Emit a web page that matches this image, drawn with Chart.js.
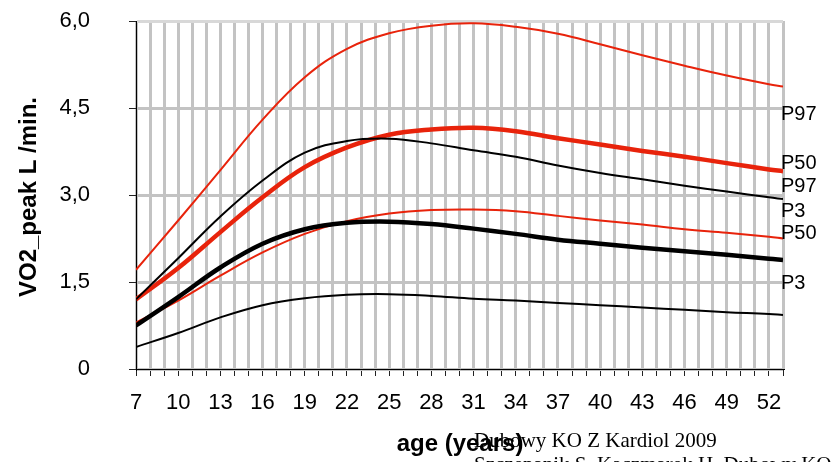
<!DOCTYPE html>
<html>
<head>
<meta charset="utf-8">
<script src="https://cdn.jsdelivr.net/npm/chart.js@4/dist/chart.umd.min.js"></script>
<style>
  html, body { margin: 0; padding: 0; background: #fff; }
  #wrap { width: 831px; height: 462px; position: relative; overflow: hidden; }
</style>
</head>
<body>
<div id="wrap"><canvas id="c" width="831" height="462"></canvas></div>
<script>
// ---- data ----
const ages = [7, 10, 13, 16, 19, 22, 25, 28, 31, 34, 37, 40, 43, 46, 49, 52, 53];
const redP97   = [1.71, 2.56, 3.43, 4.30, 5.03, 5.52, 5.79, 5.92, 5.96, 5.90, 5.78, 5.60, 5.41, 5.23, 5.06, 4.91, 4.87];
const redP50   = [1.20, 1.74, 2.36, 2.96, 3.48, 3.82, 4.04, 4.13, 4.16, 4.10, 3.98, 3.87, 3.76, 3.66, 3.55, 3.44, 3.41];
const redP3    = [0.80, 1.18, 1.61, 2.01, 2.33, 2.55, 2.68, 2.74, 2.75, 2.72, 2.64, 2.56, 2.49, 2.41, 2.35, 2.28, 2.25];
const blackP97 = [1.20, 1.91, 2.63, 3.25, 3.73, 3.93, 3.97, 3.89, 3.77, 3.66, 3.51, 3.38, 3.27, 3.16, 3.06, 2.96, 2.93];
const blackP50 = [0.75, 1.24, 1.75, 2.16, 2.41, 2.52, 2.54, 2.50, 2.42, 2.33, 2.23, 2.16, 2.09, 2.03, 1.97, 1.90, 1.88];
const blackP3  = [0.38, 0.62, 0.89, 1.10, 1.22, 1.28, 1.29, 1.26, 1.21, 1.18, 1.14, 1.10, 1.06, 1.02, 0.98, 0.95, 0.93];

const xTickLabels = ['7','10','13','16','19','22','25','28','31','34','37','40','43','46','49','52'];
const yTickValues = [0, 1.5, 3, 4.5, 6];
const yTickLabels = ['0', '1,5', '3,0', '4,5', '6,0'];

const endLabels      = ['P97', 'P50', 'P97', 'P3', 'P50', 'P3'];
const endLabelValues = [4.38, 3.55, 3.14, 2.72, 2.33, 1.48];

const yTitle = 'VO2_peak L /min.';
const xTitle = 'age (years)';
const citeLines = ['Dubowy KO Z Kardiol 2009', 'Szczepanik S, Kaczmarek H, Dubowy KO'];

// ---- chart ----
const RED = '#e8230b';
const BLACK = '#000000';
const SANS = '"Liberation Sans", Arial, sans-serif';
const SERIF = '"Liberation Serif", "Times New Roman", serif';

function pts(arr) { return ages.map((a, i) => ({ x: a, y: arr[i] })); }
function ds(arr, color, width) {
  return { data: pts(arr), borderColor: color, backgroundColor: color, borderWidth: width,
           pointRadius: 0, fill: false, tension: 0.4 };
}

const overlay = {
  id: 'overlay',
  afterDraw(chart) {
    const ctx = chart.ctx;
    const ys = chart.scales.y;
    const area = chart.chartArea;
    ctx.save();
    // end labels
    ctx.fillStyle = '#000';
    ctx.font = '20px ' + SANS;
    ctx.textAlign = 'left';
    ctx.textBaseline = 'middle';
    endLabels.forEach((t, i) => {
      ctx.fillText(t, area.right - 2, ys.getPixelForValue(endLabelValues[i]));
    });
    // y title
    ctx.save();
    ctx.translate(29, 197);
    ctx.rotate(-Math.PI / 2);
    ctx.font = 'bold 24px ' + SANS;
    ctx.textAlign = 'center';
    ctx.textBaseline = 'middle';
    ctx.fillText(yTitle, 0, 0);
    ctx.restore();
    // x title
    ctx.font = 'bold 24px ' + SANS;
    ctx.textAlign = 'center';
    ctx.textBaseline = 'alphabetic';
    ctx.fillText(xTitle, 460, 451);
    // citation (overlapping, as in the reference)
    ctx.font = '21px ' + SERIF;
    ctx.textAlign = 'left';
    ctx.fillText(citeLines[0], 474, 447);
    ctx.fillText(citeLines[1], 474, 471);
    ctx.restore();
  }
};

new Chart(document.getElementById('c'), {
  type: 'line',
  data: {
    datasets: [
      ds(blackP3, BLACK, 2),
      ds(blackP50, BLACK, 4.5),
      ds(blackP97, BLACK, 2),
      ds(redP3, RED, 2),
      ds(redP50, RED, 4.5),
      ds(redP97, RED, 2)
    ]
  },
  options: {
    responsive: false,
    animation: false,
    layout: { padding: { left: 0, right: 48, top: 21, bottom: 0 } },
    plugins: { legend: { display: false }, tooltip: { enabled: false } },
    scales: {
      x: {
        type: 'linear',
        min: 7, max: 53,
        afterFit(s) { s.height = 93; s.paddingLeft = 0; s.paddingRight = 0; },
        afterBuildTicks(s) {
          const t = [];
          for (let v = 7; v <= 53; v++) t.push({ value: v });
          s.ticks = t;
        },
        ticks: {
          autoSkip: false, maxRotation: 0, padding: 14,
          color: '#000', font: { family: SANS, size: 22 },
          callback(v) {
            const k = xTickLabels.indexOf(String(v));
            return k >= 0 ? xTickLabels[k] : '';
          }
        },
        grid: { color: '#c3c3c3', lineWidth: 3, tickLength: 7, tickColor: '#222', tickWidth: 1 },
        border: { color: '#000', width: 1 }
      },
      y: {
        min: 0, max: 6,
        afterFit(s) { s.width = 136; s.paddingTop = 0; s.paddingBottom = 0; },
        afterBuildTicks(s) { s.ticks = yTickValues.map(v => ({ value: v })); },
        ticks: {
          padding: 39, color: '#000', font: { family: SANS, size: 22 },
          callback(v) { const k = yTickValues.indexOf(v); return k >= 0 ? yTickLabels[k] : ''; }
        },
        grid: {
          color: c => (c.tick && c.tick.value === 6 ? '#d8d8d8' : '#c3c3c3'),
          lineWidth: 3, tickLength: 7, tickColor: '#222', tickWidth: 1
        },
        border: { color: '#000', width: 1 }
      }
    }
  },
  plugins: [overlay]
});
</script>
</body>
</html>
